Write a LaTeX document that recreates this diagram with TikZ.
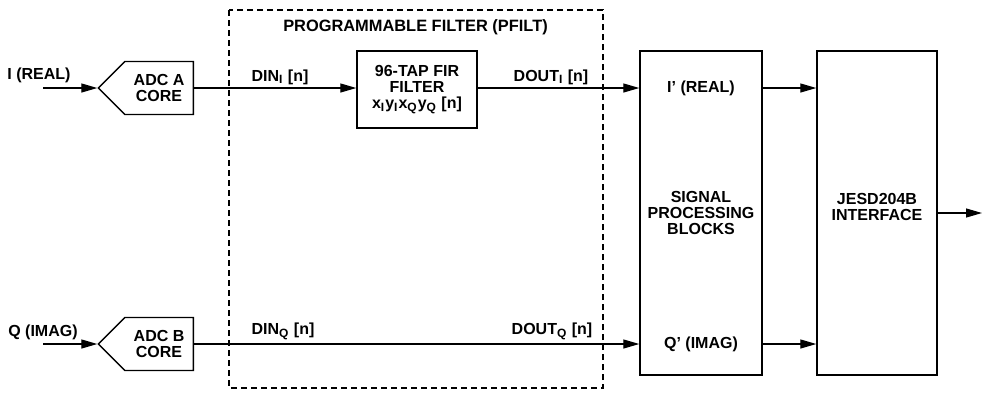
\documentclass[tikz,border=0pt]{standalone}
\usepackage{fontspec}
\setmainfont{Liberation Sans}
\usetikzlibrary{arrows.meta, shapes.symbols, positioning}

\tikzset{
  lbl/.style={font=\bfseries\fontsize{8}{8}\selectfont, inner sep=1pt, align=center},
  blk/.style={draw, line width=0.7pt, lbl},
  adc/.style={blk, shape=signal, signal to=west, signal from=nowhere,
              minimum width=47.5pt, minimum height=26.5pt, inner sep=0pt},
  wire/.style={line width=0.6pt},
  sig/.style={wire, -{Triangle[length=8pt, width=4.5pt]}},
}

\begin{document}
\begin{tikzpicture}[x=0.5pt, y=-0.5pt]
    \useasboundingbox (0,0) rectangle (982,393);

    % Programmable filter zone
    \draw[line width=0.6pt, dash pattern=on 3pt off 2pt] (229,10) rectangle (603,388);
    \node[lbl, font=\bfseries\fontsize{8.2}{9}\selectfont] (pfilt) at (415.5,27) {PROGRAMMABLE FILTER (PFILT)};

    % ADC cores
    \node[adc, anchor=east] (adcA) at (194,88) {ADC A\\CORE};
    \node[adc, anchor=east] (adcB) at (194,344) {ADC B\\CORE};
    \coordinate (inI) at (43,88);
    \coordinate (inQ) at (43,344);
    \node[lbl] (realI) at (39,75) {I (REAL)};
    \node[lbl] (imagQ) at (43,332) {Q (IMAG)};

    % FIR filter
    \node[blk, minimum width=60pt, minimum height=38.5pt] (fir) at (417,89.5)
      {96-TAP FIR\\FILTER\\x\textsubscript{I}y\textsubscript{I}x\textsubscript{Q}y\textsubscript{Q} [n]};

    % Processing and interface blocks
    \node[blk, minimum width=61pt, minimum height=162pt] (spb) at (701,213)
      {SIGNAL\\PROCESSING\\BLOCKS};
    \node[blk, minimum width=60pt, minimum height=162pt, text depth=6pt] (jesd) at (877,213)
      {JESD204B\\INTERFACE};
    \node[lbl] (iprime) at (701,88) {I’ (REAL)};
    \node[lbl] (qprime) at (701,344) {Q’ (IMAG)};
    \coordinate (out) at (982,213);

    % Signal labels
    \node[lbl] (dinI) at (280,77) {DIN\textsubscript{I} [n]};
    \node[lbl] (doutI) at (551,77) {DOUT\textsubscript{I} [n]};
    \node[lbl] (dinQ) at (283,331) {DIN\textsubscript{Q} [n]};
    \node[lbl] (doutQ) at (552,331) {DOUT\textsubscript{Q} [n]};

    % Connections
    \draw[sig] (inI) -- (adcA.west);
    \draw[sig] (inQ) -- (adcB.west);
    \draw[sig] (adcA.east) -- (fir.west |- adcA.east);
    \draw[sig] (fir.east |- adcA.east) -- (spb.west |- adcA.east);
    \draw[sig] (adcB.east) -- (spb.west |- adcB.east);
    \draw[sig] (spb.east |- iprime) -- (jesd.west |- iprime);
    \draw[sig] (spb.east |- qprime) -- (jesd.west |- qprime);
    \draw[sig] (jesd.east) -- (out);
  \end{tikzpicture}
\end{document}
